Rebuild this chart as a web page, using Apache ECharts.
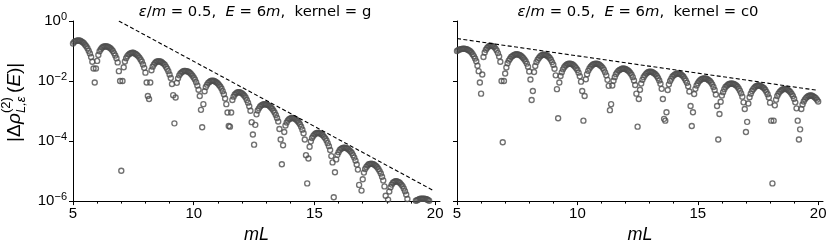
<!DOCTYPE html>
<html><head><meta charset="utf-8">
<script src="https://cdn.jsdelivr.net/npm/echarts@6/dist/echarts.min.js"></script>
<style>html,body{margin:0;padding:0;background:#fff}#c{width:830px;height:249px}</style>
</head><body><div id="c"></div>
<script>
// sampling grid in mL
const mL = [
5,5.05,5.1,5.15,5.2,5.25,5.3,5.35,5.4,5.45,5.5,5.55,5.6,5.65,5.7,5.75,5.8,5.85,5.9,5.95,
6,6.05,6.1,6.15,6.2,6.25,6.3,6.35,6.4,6.45,6.5,6.55,6.6,6.65,6.7,6.75,6.8,6.85,6.9,6.95,
7,7.05,7.1,7.15,7.2,7.25,7.3,7.35,7.4,7.45,7.5,7.55,7.6,7.65,7.7,7.75,7.8,7.85,7.9,7.95,
8,8.05,8.1,8.15,8.2,8.25,8.3,8.35,8.4,8.45,8.5,8.55,8.6,8.65,8.7,8.75,8.8,8.85,8.9,8.95,
9,9.05,9.1,9.15,9.2,9.25,9.3,9.35,9.4,9.45,9.5,9.55,9.6,9.65,9.7,9.75,9.8,9.85,9.9,9.95,
10,10.05,10.1,10.15,10.2,10.25,10.3,10.35,10.4,10.45,10.5,10.55,10.6,10.65,10.7,10.75,10.8,10.85,10.9,10.95,
11,11.05,11.1,11.15,11.2,11.25,11.3,11.35,11.4,11.45,11.5,11.55,11.6,11.65,11.7,11.75,11.8,11.85,11.9,11.95,
12,12.05,12.1,12.15,12.2,12.25,12.3,12.35,12.4,12.45,12.5,12.55,12.6,12.65,12.7,12.75,12.8,12.85,12.9,12.95,
13,13.05,13.1,13.15,13.2,13.25,13.3,13.35,13.4,13.45,13.5,13.55,13.6,13.65,13.7,13.75,13.8,13.85,13.9,13.95,
14,14.05,14.1,14.15,14.2,14.25,14.3,14.35,14.4,14.45,14.5,14.55,14.6,14.65,14.7,14.75,14.8,14.85,14.9,14.95,
15,15.05,15.1,15.15,15.2,15.25,15.3,15.35,15.4,15.45,15.5,15.55,15.6,15.65,15.7,15.75,15.8,15.85,15.9,15.95,
16,16.05,16.1,16.15,16.2,16.25,16.3,16.35,16.4,16.45,16.5,16.55,16.6,16.65,16.7,16.75,16.8,16.85,16.9,16.95,
17,17.05,17.1,17.15,17.2,17.25,17.3,17.35,17.4,17.45,17.5,17.55,17.6,17.65,17.7,17.75,17.8,17.85,17.9,17.95,
18,18.05,18.1,18.15,18.2,18.25,18.3,18.35,18.4,18.45,18.5,18.55,18.6,18.65,18.7,18.75,18.8,18.85,18.9,18.95,
19,19.05,19.1,19.15,19.2,19.25,19.3,19.35,19.4,19.45,19.5,19.55,19.6,19.65,19.7,19.75,19.8,19.85,19.9,19.95,
20];

// log10 |Δρ|, kernel = g (null = below 1e-6, not visible)
const gLog10 = [
-0.75,-0.70,-0.67,-0.66,-0.65,-0.65,-0.66,-0.68,-0.71,-0.74,-0.79,-0.84,-0.91,-0.99,-1.08,-1.20,-1.36,-1.58,-2.05,-1.58,
-1.33,-1.13,-1.01,-0.94,-0.89,-0.86,-0.85,-0.84,-0.85,-0.86,-0.88,-0.91,-0.95,-1.00,-1.07,-1.15,-1.24,-1.38,-1.67,-2.00,
-4.99,-2.00,-1.54,-1.35,-1.24,-1.17,-1.12,-1.09,-1.07,-1.06,-1.06,-1.08,-1.10,-1.13,-1.17,-1.22,-1.28,-1.35,-1.45,-1.56,
-1.72,-2.05,-2.50,-2.60,-2.05,-1.64,-1.52,-1.45,-1.40,-1.36,-1.35,-1.34,-1.35,-1.36,-1.39,-1.42,-1.46,-1.52,-1.59,-1.67,
-1.78,-1.90,-2.10,-2.47,-3.41,-2.55,-2.06,-1.91,-1.81,-1.75,-1.71,-1.68,-1.66,-1.66,-1.67,-1.68,-1.70,-1.73,-1.77,-1.82,
-1.88,-1.95,-2.04,-2.15,-2.29,-2.50,-2.96,-3.54,-2.77,-2.34,-2.20,-2.12,-2.06,-2.03,-2.00,-1.99,-1.99,-2.00,-2.02,-2.05,
-2.08,-2.13,-2.18,-2.25,-2.34,-2.44,-2.58,-2.77,-3.05,-3.50,-3.52,-3.05,-2.63,-2.52,-2.45,-2.41,-2.38,-2.37,-2.37,-2.39,
-2.41,-2.45,-2.49,-2.55,-2.63,-2.72,-2.84,-2.99,-3.37,-3.78,-4.12,-3.46,-3.11,-2.98,-2.91,-2.85,-2.81,-2.79,-2.77,-2.77,
-2.78,-2.79,-2.81,-2.84,-2.88,-2.92,-2.98,-3.05,-3.13,-3.23,-3.35,-3.60,-3.95,-4.77,-4.14,-3.70,-3.48,-3.38,-3.31,-3.27,
-3.25,-3.23,-3.23,-3.24,-3.26,-3.29,-3.33,-3.38,-3.44,-3.52,-3.62,-3.74,-3.95,-4.47,-5.41,-4.58,-4.19,-4.01,-3.90,-3.83,
-3.78,-3.75,-3.73,-3.73,-3.74,-3.75,-3.78,-3.81,-3.86,-3.91,-3.98,-4.07,-4.17,-4.30,-4.50,-4.71,-5.87,-5.04,-4.61,-4.46,
-4.37,-4.30,-4.26,-4.24,-4.22,-4.22,-4.23,-4.24,-4.27,-4.31,-4.35,-4.40,-4.47,-4.55,-4.65,-4.78,-4.95,-5.46,null,-5.65,
-5.27,-5.05,-4.93,-4.86,-4.81,-4.77,-4.76,-4.75,-4.76,-4.77,-4.80,-4.83,-4.87,-4.93,-5.00,-5.08,-5.19,-5.31,-5.51,-5.82,
null,-5.95,-5.68,-5.54,-5.45,-5.39,-5.36,-5.34,-5.34,-5.35,-5.37,-5.40,-5.45,-5.50,-5.58,-5.67,-5.78,-5.93,null,null,
null,null,null,null,-5.99,-5.97,-5.95,-5.93,-5.92,-5.92,-5.92,-5.92,-5.93,-5.94,-5.96,-5.99,null,null,null,null,
null];

// log10 |Δρ|, kernel = c0
const c0Log10 = [
-1.00,-0.97,-0.95,-0.94,-0.93,-0.92,-0.92,-0.93,-0.94,-0.96,-0.98,-1.01,-1.05,-1.11,-1.17,-1.25,-1.34,-1.49,-1.67,-2.05,
-2.42,-1.78,-1.20,-1.05,-0.96,-0.90,-0.86,-0.83,-0.82,-0.83,-0.84,-0.87,-0.92,-0.98,-1.07,-1.18,-1.36,-2.00,-4.04,-2.00,
-1.75,-1.55,-1.41,-1.32,-1.26,-1.20,-1.17,-1.14,-1.12,-1.11,-1.11,-1.12,-1.13,-1.16,-1.19,-1.23,-1.28,-1.34,-1.42,-1.52,
-1.68,-1.95,-2.63,-2.33,-1.70,-1.50,-1.37,-1.29,-1.23,-1.18,-1.15,-1.13,-1.12,-1.12,-1.14,-1.16,-1.19,-1.23,-1.29,-1.37,
-1.46,-1.59,-1.81,-2.27,-3.24,-2.05,-1.83,-1.71,-1.61,-1.54,-1.49,-1.46,-1.43,-1.42,-1.42,-1.43,-1.45,-1.48,-1.52,-1.57,
-1.63,-1.72,-1.84,-2.02,-2.33,-3.32,-2.50,-1.94,-1.77,-1.66,-1.58,-1.52,-1.48,-1.45,-1.43,-1.42,-1.42,-1.43,-1.45,-1.48,
-1.51,-1.56,-1.62,-1.71,-1.81,-1.96,-2.16,-2.97,-2.77,-2.15,-1.99,-1.87,-1.77,-1.71,-1.66,-1.63,-1.61,-1.59,-1.58,-1.59,
-1.60,-1.62,-1.65,-1.68,-1.73,-1.79,-1.87,-1.98,-2.13,-2.42,-3.52,-2.60,-2.29,-2.08,-1.96,-1.87,-1.81,-1.76,-1.72,-1.70,
-1.69,-1.69,-1.70,-1.72,-1.75,-1.78,-1.83,-1.90,-1.98,-2.09,-2.26,-2.60,-3.26,-3.32,-3.04,-2.30,-2.11,-2.00,-1.92,-1.85,
-1.81,-1.78,-1.76,-1.75,-1.75,-1.76,-1.78,-1.81,-1.85,-1.91,-1.98,-2.06,-2.17,-2.35,-2.83,-3.50,-3.04,-2.43,-2.26,-2.15,
-2.07,-2.01,-1.97,-1.94,-1.92,-1.91,-1.91,-1.92,-1.94,-1.97,-2.00,-2.05,-2.11,-2.20,-2.30,-2.45,-2.83,-3.95,-3.10,-2.69,
-2.48,-2.37,-2.27,-2.20,-2.16,-2.12,-2.10,-2.09,-2.08,-2.09,-2.10,-2.12,-2.15,-2.19,-2.25,-2.32,-2.41,-2.52,-2.71,-2.93,
-3.70,-3.36,-2.75,-2.54,-2.42,-2.33,-2.27,-2.22,-2.18,-2.16,-2.15,-2.15,-2.16,-2.18,-2.21,-2.24,-2.29,-2.36,-2.44,-2.55,
-2.72,-3.32,-5.41,-3.32,-2.81,-2.62,-2.50,-2.42,-2.36,-2.32,-2.29,-2.27,-2.26,-2.26,-2.27,-2.30,-2.33,-2.37,-2.43,-2.50,
-2.59,-2.71,-2.91,-3.32,-3.95,-3.61,-2.93,-2.78,-2.68,-2.61,-2.56,-2.52,-2.50,-2.48,-2.48,-2.49,-2.51,-2.54,-2.57,-2.62,
-2.68];

// dashed guide lines (end points)
const gGuideX = [6.9, 19.95];
const gGuideY = [1.0, 2.2e-6];
const c0GuideX = [5, 19.9];
const c0GuideY = [0.26, 5.0e-3];

const xMajorTicks = [5, 10, 15, 20];
const titles = [
  '{i|ε}/{i|m} = 0.5,  {i|E} = 6{i|m},  kernel = g',
  '{i|ε}/{i|m} = 0.5,  {i|E} = 6{i|m},  kernel = c0'
];

const toPts = (lg) => mL.map((x, i) => lg[i] == null ? null : [x, Math.pow(10, lg[i])]).filter(p => p);
const guide = (xs, ys) => xs.map((x, i) => [x, ys[i]]);

const chart = echarts.init(document.getElementById('c'), null, {renderer: 'canvas'});
const FONT = '"Liberation Sans", Arial, sans-serif';
const gridDefs = [
  {left: 73, top: 21, width: 367, height: 182},
  {left: 457, top: 21, width: 366, height: 182}
];
function mainX(gi) {
  return {
    type: 'value', gridIndex: gi, min: 5, max: 20.2, interval: 5, position: 'bottom',
    axisLine: {show: true, lineStyle: {color: '#000', width: 1}},
    axisTick: {show: true, inside: false, length: 4, customValues: xMajorTicks, lineStyle: {color: '#000', width: 1}},
    minorTick: {show: true, splitNumber: 5, length: 2.5, lineStyle: {color: '#000', width: 1}},
    axisLabel: {show: true, customValues: xMajorTicks, margin: 5, color: '#000', fontSize: 15, fontFamily: FONT},
    splitLine: {show: false}, minorSplitLine: {show: false},
    name: 'mL', nameLocation: 'middle', nameGap: 23,
    nameTextStyle: {fontStyle: 'italic', fontSize: 18, fontFamily: FONT, color: '#000'}
  };
}
function yAx(gi, labels) {
  return {
    type: 'log', logBase: 10, gridIndex: gi, min: 1e-6, max: 1, interval: 2,
    axisLine: {show: true, lineStyle: {color: '#000', width: 1}},
    axisTick: {show: true, length: 4, lineStyle: {color: '#000', width: 1}},
    minorTick: {show: false},
    splitLine: {show: false},
    axisLabel: {
      show: labels, margin: 6, color: '#000', fontSize: 15, fontFamily: FONT,
      formatter: (v) => {
        const e = Math.round(Math.log10(v));
        return '10{s|' + (e < 0 ? '\u2212' + (-e) : e) + '}';
      },
      rich: {s: {fontSize: 11, fontFamily: FONT, color: '#000', padding: [0, 0, 9, 0]}}
    }
  };
}
const scatterStyle = {
  type: 'scatter', symbol: 'circle', symbolSize: 5,
  itemStyle: {color: 'rgba(0,0,0,0)', borderColor: '#4d4d4d', borderWidth: 1.4},
  emphasis: {disabled: true}, silent: true, clip: true
};
const lineStyle = {
  type: 'line', showSymbol: false, symbol: 'none', silent: true, clip: true,
  lineStyle: {color: '#000', width: 1.1, type: [4, 2.4]}
};

const TF = '14.8px "DejaVu Sans"';
const titleRich = {i: {fontStyle: 'italic', fontFamily: '"DejaVu Sans"', fontSize: 14.8, fill: '#000'}};

chart.setOption({
  animation: false,
  backgroundColor: '#fff',
  grid: gridDefs,
  xAxis: [mainX(0), mainX(1)],
  yAxis: [yAx(0, true), yAx(1, false)],
  series: [
    Object.assign({xAxisIndex: 0, yAxisIndex: 0, data: toPts(gLog10)}, scatterStyle),
    Object.assign({xAxisIndex: 0, yAxisIndex: 0, data: guide(gGuideX, gGuideY)}, lineStyle),
    Object.assign({xAxisIndex: 1, yAxisIndex: 1, data: toPts(c0Log10)}, scatterStyle),
    Object.assign({xAxisIndex: 1, yAxisIndex: 1, data: guide(c0GuideX, c0GuideY)}, lineStyle)
  ],
  graphic: [
    {type: 'text', x: 255, y: 12, silent: true, style: {text: titles[0], rich: titleRich, font: TF, fill: '#000', align: 'center', verticalAlign: 'middle'}},
    {type: 'text', x: 638, y: 12, silent: true, style: {text: titles[1], rich: titleRich, font: TF, fill: '#000', align: 'center', verticalAlign: 'middle'}},
    {type: 'group', x: 14.5, y: 96, rotation: Math.PI / 2, silent: true, children: [
      {type: 'text', x: -46, y: 0, style: {text: '|Δ', font: '19px ' + FONT, fill: '#000', verticalAlign: 'middle', align: 'left'}},
      {type: 'text', x: -28, y: 0, style: {text: 'ρ', font: 'italic 19px ' + FONT, fill: '#000', verticalAlign: 'middle', align: 'left'}},
      {type: 'text', x: -17, y: -8, style: {text: '(2)', font: '13px ' + FONT, fill: '#000', verticalAlign: 'middle', align: 'left'}},
      {type: 'text', x: -17, y: 7, style: {text: 'L,ε', font: 'italic 13px ' + FONT, fill: '#000', verticalAlign: 'middle', align: 'left'}},
      {type: 'text', x: 3, y: 0, style: {text: '(', font: '19px ' + FONT, fill: '#000', verticalAlign: 'middle', align: 'left'}},
      {type: 'text', x: 9.5, y: 0, style: {text: 'E', font: 'italic 19px ' + FONT, fill: '#000', verticalAlign: 'middle', align: 'left'}},
      {type: 'text', x: 22, y: 0, style: {text: ')|', font: '19px ' + FONT, fill: '#000', verticalAlign: 'middle', align: 'left'}}
    ]}
  ]
});
</script></body></html>
